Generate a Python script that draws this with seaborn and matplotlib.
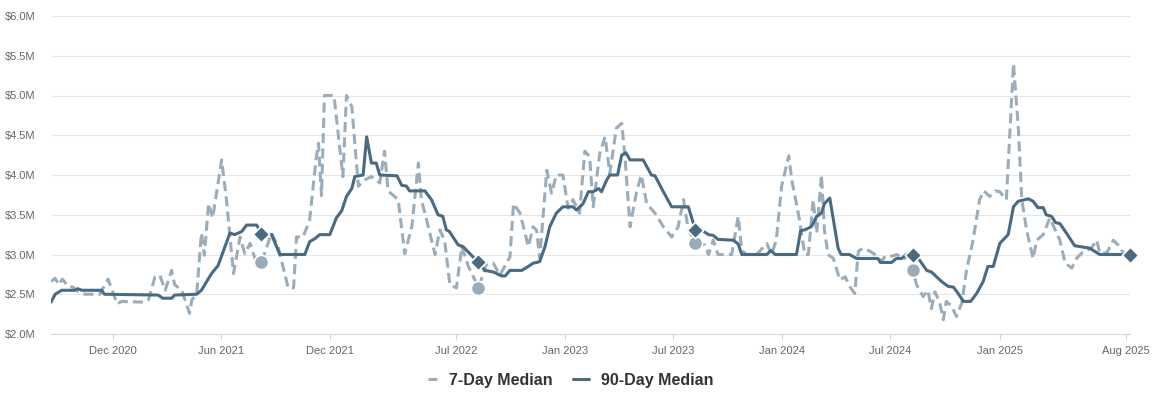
import matplotlib
matplotlib.use("Agg")
import matplotlib.pyplot as plt
from matplotlib.ticker import FuncFormatter, MultipleLocator
from matplotlib.lines import Line2D
import pandas as pd
import seaborn as sns

# ---------------- data (values in $M) ----------------
median90_dates = [
    "2020-08-19", "2020-08-26", "2020-09-06", "2020-09-28", "2020-10-03", "2020-10-10",
    "2020-11-12", "2020-11-17", "2021-02-15", "2021-02-23", "2021-03-10", "2021-03-15",
    "2021-04-21", "2021-04-29", "2021-05-16", "2021-05-27", "2021-06-16", "2021-06-24",
    "2021-07-06", "2021-07-14", "2021-07-31", "2021-08-03", "2021-08-08", "2021-08-25",
    "2021-09-08", "2021-10-20", "2021-10-28", "2021-11-06", "2021-11-14", "2021-12-01",
    "2021-12-12", "2021-12-21", "2021-12-29", "2022-01-07", "2022-01-12", "2022-01-26",
    "2022-02-01", "2022-02-09", "2022-02-17", "2022-02-23", "2022-03-24", "2022-04-01",
    "2022-04-09", "2022-04-14", "2022-05-10", "2022-05-21", "2022-06-01", "2022-06-09",
    "2022-06-15", "2022-06-20", "2022-07-05", "2022-07-13", "2022-08-08", "2022-08-19",
    "2022-09-02", "2022-09-16", "2022-09-22", "2022-09-30", "2022-10-20", "2022-10-31",
    "2022-11-08", "2022-11-19", "2022-11-28", "2022-12-06", "2022-12-17", "2022-12-28",
    "2023-01-14", "2023-01-20", "2023-01-31", "2023-02-09", "2023-02-17", "2023-02-26",
    "2023-03-03", "2023-03-12", "2023-03-17", "2023-03-30", "2023-04-06", "2023-04-13",
    "2023-04-20", "2023-05-12", "2023-05-26", "2023-06-01", "2023-06-15", "2023-06-29",
    "2023-07-27", "2023-08-08", "2023-08-18", "2023-08-30", "2023-09-07", "2023-09-15",
    "2023-10-11", "2023-10-19", "2023-10-25", "2023-12-06", "2023-12-13", "2023-12-20",
    "2024-01-25", "2024-02-01", "2024-02-08", "2024-02-19", "2024-02-28", "2024-03-07",
    "2024-03-12", "2024-03-21", "2024-04-04", "2024-04-09", "2024-04-23", "2024-05-05",
    "2024-06-10", "2024-06-14", "2024-07-03", "2024-07-11", "2024-07-20", "2024-07-28",
    "2024-08-08", "2024-08-19", "2024-08-31", "2024-09-08", "2024-09-25", "2024-10-06",
    "2024-10-15", "2024-10-21", "2024-11-01", "2024-11-13", "2024-11-23", "2024-12-04",
    "2024-12-12", "2024-12-21", "2025-01-01", "2025-01-15", "2025-01-24", "2025-02-01",
    "2025-02-18", "2025-02-26", "2025-03-06", "2025-03-15", "2025-03-20", "2025-03-29",
    "2025-04-05", "2025-04-12", "2025-04-23", "2025-05-07", "2025-05-23", "2025-06-01",
    "2025-06-18", "2025-08-08",
]
median90_values = [
    2.40, 2.50, 2.55, 2.55, 2.57, 2.55,
    2.55, 2.50, 2.49, 2.45, 2.45, 2.49,
    2.50, 2.55, 2.76, 2.86, 3.27, 3.25,
    3.29, 3.37, 3.37, 3.33, 3.26, 3.25,
    3.00, 3.00, 3.16, 3.20, 3.25, 3.25,
    3.46, 3.55, 3.73, 3.83, 3.98, 4.00,
    4.48, 4.15, 4.15, 4.00, 3.99, 3.87,
    3.86, 3.80, 3.80, 3.69, 3.50, 3.48,
    3.31, 3.29, 3.12, 3.10, 2.90, 2.80,
    2.78, 2.73, 2.73, 2.80, 2.80, 2.85,
    2.89, 2.91, 3.10, 3.35, 3.52, 3.60,
    3.60, 3.56, 3.64, 3.79, 3.79, 3.83,
    3.79, 3.94, 4.00, 4.00, 4.25, 4.28,
    4.19, 4.19, 4.00, 3.99, 3.79, 3.60,
    3.60, 3.31, 3.31, 3.25, 3.24, 3.19,
    3.18, 3.13, 3.00, 3.00, 3.05, 3.00,
    3.00, 3.30, 3.31, 3.35, 3.48, 3.52,
    3.64, 3.71, 3.08, 3.00, 3.00, 2.95,
    2.95, 2.90, 2.90, 2.95, 2.95, 3.00,
    3.00, 2.93, 2.80, 2.78, 2.66, 2.60,
    2.59, 2.53, 2.41, 2.41, 2.51, 2.66,
    2.85, 2.85, 3.14, 3.25, 3.60, 3.67,
    3.70, 3.67, 3.59, 3.59, 3.50, 3.48,
    3.40, 3.39, 3.27, 3.11, 3.09, 3.08,
    3.00, 3.00,
]

median7_dates = [
    "2020-08-19", "2020-08-26", "2020-09-01", "2020-09-07", "2020-09-17", "2020-09-25",
    "2020-10-04", "2020-10-15", "2020-11-09", "2020-11-23", "2020-11-29", "2020-12-08",
    "2020-12-16", "2021-01-24", "2021-01-30", "2021-02-10", "2021-02-18", "2021-02-27",
    "2021-03-10", "2021-03-15", "2021-03-27", "2021-04-09", "2021-04-13", "2021-04-21",
    "2021-04-29", "2021-05-04", "2021-05-11", "2021-05-18", "2021-06-02", "2021-06-10",
    "2021-06-22", "2021-07-03", "2021-07-11", "2021-07-20", "2021-07-28", "2021-08-08",
    "2021-08-25", "2021-09-05", "2021-09-22", "2021-10-01", "2021-10-06", "2021-10-17",
    "2021-10-28", "2021-11-08", "2021-11-12", "2021-11-17", "2021-11-22", "2021-12-08",
    "2021-12-23", "2021-12-29", "2022-01-07", "2022-01-18", "2022-01-29", "2022-02-09",
    "2022-02-23", "2022-03-03", "2022-03-09", "2022-03-26", "2022-04-06", "2022-04-18",
    "2022-04-29", "2022-05-04", "2022-05-13", "2022-05-27", "2022-06-04", "2022-06-12",
    "2022-06-21", "2022-07-02", "2022-07-11", "2022-07-22", "2022-08-02", "2022-08-08",
    "2022-08-22", "2022-09-02", "2022-09-13", "2022-09-30", "2022-10-06", "2022-10-17",
    "2022-10-31", "2022-11-08", "2022-11-14", "2022-11-19", "2022-12-01", "2022-12-09",
    "2022-12-17", "2022-12-28", "2023-01-06", "2023-01-14", "2023-01-25", "2023-02-03",
    "2023-02-11", "2023-02-17", "2023-02-28", "2023-03-09", "2023-03-17", "2023-03-28",
    "2023-04-06", "2023-04-11", "2023-04-20", "2023-05-01", "2023-05-09", "2023-05-18",
    "2023-06-01", "2023-06-15", "2023-06-29", "2023-07-10", "2023-07-19", "2023-07-27",
    "2023-08-08", "2023-08-24", "2023-08-30", "2023-09-07", "2023-09-15", "2023-10-08",
    "2023-10-19", "2023-10-25", "2023-11-02", "2023-11-19", "2023-12-06", "2023-12-14",
    "2023-12-22", "2023-12-31", "2024-01-12", "2024-01-17", "2024-01-29", "2024-02-08",
    "2024-02-14", "2024-02-22", "2024-02-28", "2024-03-07", "2024-03-12", "2024-03-18",
    "2024-03-27", "2024-04-07", "2024-04-16", "2024-04-23", "2024-05-02", "2024-05-08",
    "2024-05-16", "2024-05-28", "2024-06-05", "2024-06-16", "2024-06-22", "2024-07-05",
    "2024-07-11", "2024-07-25", "2024-07-31", "2024-08-08", "2024-08-14", "2024-08-25",
    "2024-09-02", "2024-09-08", "2024-09-14", "2024-09-22", "2024-09-28", "2024-10-03",
    "2024-10-12", "2024-10-20", "2024-10-29", "2024-11-06", "2024-11-17", "2024-11-28",
    "2024-12-05", "2024-12-15", "2024-12-24", "2025-01-01", "2025-01-12", "2025-01-24",
    "2025-02-01", "2025-02-07", "2025-02-15", "2025-02-26", "2025-03-04", "2025-03-15",
    "2025-03-26", "2025-04-04", "2025-04-12", "2025-04-21", "2025-05-02", "2025-05-10",
    "2025-05-19", "2025-06-04", "2025-06-13", "2025-06-18", "2025-06-30", "2025-07-11",
    "2025-07-19", "2025-07-25", "2025-07-31",
]
median7_values = [
    2.66, 2.70, 2.62, 2.69, 2.60, 2.59,
    2.53, 2.50, 2.50, 2.69, 2.57, 2.38,
    2.41, 2.40, 2.43, 2.72, 2.74, 2.55,
    2.80, 2.62, 2.55, 2.26, 2.43, 2.50,
    3.27, 2.99, 3.64, 3.46, 4.19, 3.70,
    2.76, 3.22, 3.01, 3.14, 2.95, 2.90,
    3.27, 3.10, 2.58, 2.58, 3.22, 3.22,
    3.43, 4.21, 4.40, 3.74, 5.00, 5.00,
    3.98, 5.00, 4.86, 3.86, 3.94, 3.98,
    3.90, 4.30, 3.80, 3.69, 3.01, 3.35,
    4.15, 3.69, 3.43, 3.00, 3.31, 3.18,
    2.62, 2.58, 3.10, 2.85, 2.68, 2.58,
    2.89, 2.89, 2.74, 2.97, 3.64, 3.52,
    3.10, 3.35, 3.30, 2.95, 4.06, 3.77,
    4.00, 4.00, 3.58, 3.69, 3.52, 4.30,
    4.23, 3.60, 4.27, 4.48, 4.02, 4.59,
    4.65, 4.27, 3.35, 3.79, 4.00, 3.64,
    3.52, 3.35, 3.22, 3.35, 3.69, 3.31,
    3.15, 3.12, 3.00, 3.18, 3.00, 3.00,
    3.48, 3.05, 3.00, 3.00, 3.14, 3.00,
    3.18, 3.86, 4.24, 3.94, 3.48, 3.00,
    3.00, 3.69, 3.27, 4.00, 3.31, 3.00,
    2.95, 2.68, 2.72, 2.60, 2.51, 3.04,
    3.08, 3.04, 3.00, 2.91, 2.98, 2.98,
    3.00, 2.95, 3.00, 2.80, 2.62, 2.47,
    2.55, 2.32, 2.53, 2.39, 2.18, 2.41,
    2.35, 2.22, 2.39, 2.80, 3.18, 3.69,
    3.80, 3.73, 3.80, 3.79, 3.69, 5.40,
    4.61, 3.69, 3.31, 2.95, 3.18, 3.25,
    3.46, 3.31, 3.18, 2.89, 2.83, 2.95,
    3.02, 3.08, 3.18, 3.02, 3.02, 3.18,
    3.12, 3.05, 3.00,
]

# year-ago comparison markers
diamond_dates = ["2021-08-08", "2022-08-08", "2023-08-08", "2024-08-08", "2025-08-08"]
diamond_values = [3.26, 2.90, 3.31, 3.00, 3.00]
circle_dates = ["2021-08-08", "2022-08-08", "2023-08-08", "2024-08-08"]
circle_values = [2.90, 2.58, 3.15, 2.80]

tick_dates = ["2020-12-01", "2021-06-01", "2021-12-01", "2022-07-01", "2023-01-01",
              "2023-07-01", "2024-01-01", "2024-07-01", "2025-01-01", "2025-08-01"]
tick_labels = ["Dec 2020", "Jun 2021", "Dec 2021", "Jul 2022", "Jan 2023",
               "Jul 2023", "Jan 2024", "Jul 2024", "Jan 2025", "Aug 2025"]

# ---------------- styling ----------------
C90 = "#4a6a82"
C7 = "#9badba"
CCIRC = "#9aacb9"
GRID = "#e6e6e6"
AXIS = "#ccd6eb"
LABEL = "#666666"

sns.set_theme(style="white")
plt.rcParams["font.family"] = ["Liberation Sans", "DejaVu Sans"]

W, H = 1153, 398
fig = plt.figure(figsize=(W / 100, H / 100), dpi=100)
ax = fig.add_axes([51 / W, 1 - 334 / H, (1130 - 51) / W, (334 - 16) / H])

df7 = pd.DataFrame({"date": pd.to_datetime(median7_dates), "value": median7_values})
df90 = pd.DataFrame({"date": pd.to_datetime(median90_dates), "value": median90_values})
dfd = pd.DataFrame({"date": pd.to_datetime(diamond_dates), "value": diamond_values})
dfc = pd.DataFrame({"date": pd.to_datetime(circle_dates), "value": circle_values})

lw = 2.2
sns.lineplot(data=df7, x="date", y="value", ax=ax, color=C7, linewidth=lw,
             estimator=None, sort=False, linestyle=(0, (3.3, 1.7)),
             dash_joinstyle="round", dash_capstyle="butt", zorder=2)
sns.lineplot(data=df90, x="date", y="value", ax=ax, color=C90, linewidth=lw,
             estimator=None, sort=False, solid_joinstyle="round", zorder=3)
sns.scatterplot(data=dfc, x="date", y="value", ax=ax, color=CCIRC, s=105,
                marker="o", edgecolor="white", linewidth=1.2, zorder=4, clip_on=False)
sns.scatterplot(data=dfd, x="date", y="value", ax=ax, color=C90, s=70,
                marker="D", edgecolor="white", linewidth=1.2, zorder=5, clip_on=False)

ax.set_xlim(pd.Timestamp("2020-08-19"), pd.Timestamp("2025-08-08"))
ax.set_ylim(2.0, 6.0)
ax.yaxis.set_major_locator(MultipleLocator(0.5))
ax.yaxis.set_major_formatter(FuncFormatter(lambda v, p: f"${v:.1f}M"))
ax.set_xticks(pd.to_datetime(tick_dates))
ax.set_xticklabels(tick_labels)

ax.set_xlabel("")
ax.set_ylabel("")
ax.grid(axis="y", color=GRID, linewidth=0.75, zorder=0)
ax.grid(axis="x", visible=False)
ax.set_axisbelow(True)
for s in ["top", "left", "right"]:
    ax.spines[s].set_visible(False)
ax.spines["bottom"].set_color(AXIS)
ax.spines["bottom"].set_linewidth(0.75)
ax.spines["bottom"].set_zorder(1)

ax.tick_params(axis="y", length=0, pad=11.5, labelsize=8, labelcolor=LABEL)
ax.tick_params(axis="x", length=4.5, width=0.75, color=AXIS, pad=4.5,
               labelsize=8, labelcolor=LABEL, direction="out", bottom=True)
ax.set_facecolor("white")

if ax.get_legend() is not None:
    ax.get_legend().remove()

handles = [
    Line2D([], [], color=C7, linewidth=lw, linestyle=(10.7, (3.0, 10.0))),
    Line2D([], [], color=C90, linewidth=lw),
]
leg = fig.legend(handles, ["7-Day Median", "90-Day Median"], loc="center",
                 bbox_to_anchor=(567.5 / W, 1 - 380 / H), ncol=2, frameon=False,
                 prop={"weight": "bold", "size": 11.5}, handlelength=1.0,
                 handletextpad=0.75, columnspacing=1.3, labelcolor="#333333")

fig.savefig("out.png", dpi=100, facecolor="white")
